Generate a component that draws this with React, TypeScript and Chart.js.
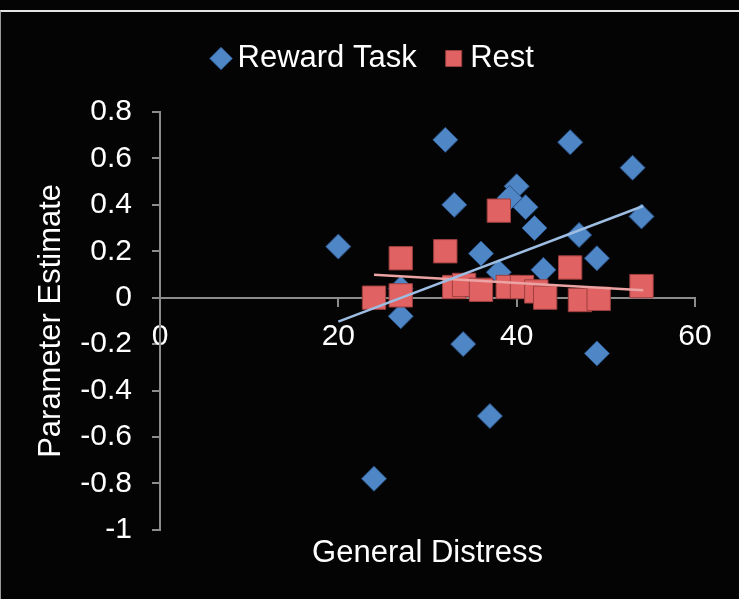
import React, { useEffect, useRef } from 'react';
import { Chart, registerables } from 'chart.js';

Chart.register(...registerables);

const FONT = '"Liberation Sans", Arial, sans-serif';

// Reward Task (blue diamonds)
const rewardX = [20, 32, 46, 53, 40, 33, 41, 54, 42, 47, 36, 49, 43, 38, 39.2, 27, 27, 34, 49, 37, 24];
const rewardY = [0.22, 0.68, 0.67, 0.56, 0.48, 0.40, 0.39, 0.35, 0.30, 0.27, 0.19, 0.17, 0.12, 0.11, 0.43, 0.04, -0.08, -0.20, -0.24, -0.51, -0.78];

// Rest (red squares)
const restX = [38, 32, 27, 46, 54, 24, 27, 33, 34.1, 36, 39, 40.6, 42.2, 43.2, 47.1, 49.2];
const restY = [0.375, 0.20, 0.17, 0.13, 0.05, 0, 0.01, 0.046, 0.055, 0.034, 0.046, 0.046, 0.027, 0, -0.01, -0.005];

// Linear trend lines (end points)
const rewardTrendX = [20, 54.2];
const rewardTrendY = [-0.103, 0.395];
const restTrendX = [24, 54.2];
const restTrendY = [0.099, 0.032];

const seriesNames = ['Reward Task', 'Rest'];
const xTitle = 'General Distress';
const yTitle = 'Parameter Estimate';

const toPoints = (xs: number[], ys: number[]) => xs.map((x, i) => ({ x, y: ys[i] }));

export default function App() {
  const ref = useRef<HTMLCanvasElement | null>(null);

  useEffect(() => {
    if (!ref.current) return;
    const axisColor = '#8c8c8c';
    const chart = new Chart(ref.current, {
      type: 'scatter',
      data: {
        datasets: [
          {
            label: seriesNames[0],
            data: toPoints(rewardX, rewardY),
            pointStyle: 'rectRot',
            pointRadius: 12.5,
            backgroundColor: '#4f86c6',
            borderColor: '#2b5589',
            borderWidth: 1,
            order: 2,
            xAxisID: 'x',
            yAxisID: 'y',
          },
          {
            label: seriesNames[1],
            data: toPoints(restX, restY),
            pointStyle: 'rect',
            pointRadius: 16.5,
            backgroundColor: '#e06262',
            borderColor: '#9e3f3f',
            borderWidth: 1,
            order: 1,
            xAxisID: 'x',
            yAxisID: 'y',
          },
          {
            label: 'trend1',
            data: toPoints(rewardTrendX, rewardTrendY),
            showLine: true,
            pointRadius: 0,
            borderColor: '#9dbde2',
            borderWidth: 2.5,
            fill: false,
            order: 0,
            xAxisID: 'x',
            yAxisID: 'y',
          },
          {
            label: 'trend2',
            data: toPoints(restTrendX, restTrendY),
            showLine: true,
            pointRadius: 0,
            borderColor: '#eba3a3',
            borderWidth: 2.5,
            fill: false,
            order: 0,
            xAxisID: 'x',
            yAxisID: 'y',
          },
        ],
      },
      options: {
        animation: false,
        responsive: false,
        layout: { padding: { left: 15, right: 0, top: 7, bottom: 0 } },
        plugins: {
          legend: {
            position: 'top',
            labels: {
              usePointStyle: true,
              boxWidth: 2,
              boxHeight: 16,
              padding: 36,
              color: '#ffffff',
              font: { size: 31, family: FONT },
              filter: (item: any) => item.datasetIndex < 2,
              sort: (a: any, b: any) => a.datasetIndex - b.datasetIndex,
            },
          },
          title: {
            display: true,
            position: 'bottom',
            fullSize: false,
            text: xTitle,
            color: '#ffffff',
            font: { size: 31, family: FONT, weight: 'normal' },
            padding: { top: 5, bottom: 27 },
          },
          tooltip: { enabled: false },
        },
        scales: {
          x: {
            type: 'linear',
            position: { y: 0 } as any,
            min: 0,
            max: 60,
            ticks: {
              stepSize: 20,
              color: '#ffffff',
              font: { size: 30, family: FONT },
              padding: 13,
              maxRotation: 0,
            },
            grid: { drawOnChartArea: false, drawTicks: true, tickLength: 8, color: axisColor, lineWidth: 2 },
            border: { color: axisColor, width: 2 },
          },
          xT: {
            type: 'linear',
            position: 'top',
            min: 0,
            max: 1,
            display: true,
            ticks: { display: false },
            grid: { display: false },
            border: { display: false },
            afterFit: (s: any) => {
              s.height = 28;
            },
          },
          y: {
            type: 'linear',
            position: 'left',
            min: -1,
            max: 0.8,
            ticks: {
              stepSize: 0.2,
              color: '#ffffff',
              font: { size: 30, family: FONT },
              padding: 20,
              callback: (v: any) => {
                const r = Math.round(Number(v) * 10) / 10;
                return String(r === 0 ? 0 : r);
              },
            },
            grid: { drawOnChartArea: false, drawTicks: true, tickLength: 8, color: axisColor, lineWidth: 2 },
            border: { color: axisColor, width: 2 },
            title: {
              display: true,
              text: yTitle,
              color: '#ffffff',
              font: { size: 31, family: FONT },
              padding: { top: 18, bottom: 4 },
            },
            afterFit: (s: any) => {
              s.width = 145;
            },
          },
          yR: {
            type: 'linear',
            position: 'right',
            min: 0,
            max: 1,
            display: true,
            ticks: { display: false },
            grid: { display: false },
            border: { display: false },
            afterFit: (s: any) => {
              s.width = 44;
            },
          },
        },
      } as any,
    });
    return () => chart.destroy();
  }, []);

  return (
    <div
      style={{
        position: 'fixed',
        left: 0,
        top: 0,
        width: 739,
        height: 599,
        background: '#040404',
        overflow: 'hidden',
      }}
    >
      <canvas
        ref={ref}
        width={739}
        height={599}
        style={{ position: 'absolute', left: 0, top: 0, width: 739, height: 599 }}
      />
      <div
        style={{
          position: 'absolute',
          left: 0,
          top: 10,
          width: 739,
          height: 589,
          boxSizing: 'border-box',
          borderTop: '2px solid #e4e4e4',
          borderLeft: '1px solid #9a9a9a',
          pointerEvents: 'none',
        }}
      />
    </div>
  );
}
